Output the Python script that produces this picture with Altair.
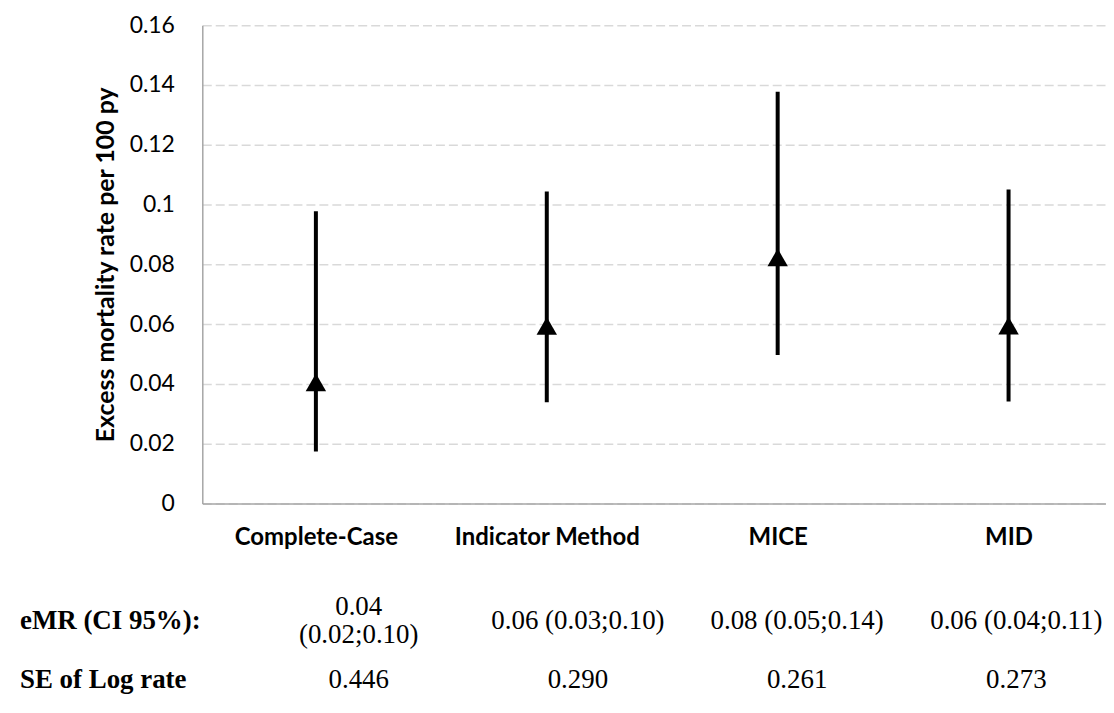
import altair as alt
import pandas as pd

# ---- data ----
categories = ["Complete-Case", "Indicator Method", "MICE", "MID"]
rate = [0.0405, 0.0594, 0.0823, 0.0595]
ci_low = [0.0174, 0.0339, 0.0497, 0.0341]
ci_high = [0.0978, 0.1044, 0.1377, 0.1050]
y_ticks = [0, 0.02, 0.04, 0.06, 0.08, 0.1, 0.12, 0.14, 0.16]

row_labels = ["eMR (CI 95%):", "SE of Log rate"]
emr_text = ["0.04\n(0.02;0.10)", "0.06 (0.03;0.10)", "0.08 (0.05;0.14)", "0.06 (0.04;0.11)"]
se_text = ["0.446", "0.290", "0.261", "0.273"]

# ---- tables ----
est = pd.DataFrame({
    "idx": list(range(len(categories))),
    "method": categories,
    "rate": rate,
    "low": ci_low,
    "high": ci_high,
})

head = pd.DataFrame({"col": ["row"] * len(row_labels), "row": row_labels, "text": row_labels})
cells = pd.DataFrame({
    "col": categories + categories,
    "row": [row_labels[0]] * len(categories) + [row_labels[1]] * len(categories),
    "text": emr_text + se_text,
})

W, H = 907, 480
LINE_H = 28
label_expr = "[" + ",".join("'" + c + "'" for c in categories) + "][datum.value]"

x_plot = alt.X(
    "idx:Q",
    scale=alt.Scale(domain=[-0.492, 3.422], nice=False, zero=False),
    axis=alt.Axis(
        values=list(range(len(categories))),
        labelExpr=label_expr,
        labelLimit=0,
        labelOverlap=False,
        title=None,
        grid=False,
        ticks=False,
        tickSize=0,
        labelPadding=22,
        labelFont="Lato",
        labelFontWeight="bold",
        labelFontSize=24,
        labelColor="#000000",
        domainColor="#a6a6a6",
        domainWidth=1.5,
    ),
)
y_plot = alt.Y(
    "low:Q",
    scale=alt.Scale(domain=[0, 0.16], nice=False, zero=True),
    axis=alt.Axis(
        values=y_ticks,
        format="~g",
        title="Excess mortality rate per 100 py",
        titleFont="Lato",
        titleFontWeight="bold",
        titleFontSize=25,
        titleColor="#000000",
        titlePadding=11,
        labelFont="Lato",
        labelFontSize=23,
        labelColor="#000000",
        labelPadding=28,
        ticks=False,
        tickSize=0,
        grid=True,
        gridColor="#d9d9d9",
        gridDash=[9, 4],
        gridWidth=1.5,
        domainColor="#a6a6a6",
        domainWidth=1.5,
    ),
)

bars = alt.Chart(est).mark_rule(color="#000000", strokeWidth=4).encode(
    x=x_plot, y=y_plot, y2="high:Q"
)
points = alt.Chart(est).mark_point(
    shape="triangle-up", filled=True, color="#000000", opacity=1, size=420
).encode(x="idx:Q", y="rate:Q")

plot = alt.layer(bars, points)

x_tab = alt.Scale(
    type="band",
    domain=["row"] + categories,
    range=[-173, 927],
    paddingInner=0,
    paddingOuter=0,
)
y_tab = alt.Scale(type="point", domain=row_labels, range=[598, 657], padding=0)

header_txt = alt.Chart(head).mark_text(
    align="left", baseline="middle", font="Liberation Serif", fontWeight="bold",
    fontSize=27, color="#000000", dx=-10
).encode(
    x=alt.X("col:N", scale=x_tab, axis=None, bandPosition=0),
    y=alt.Y("row:N", scale=y_tab, axis=None),
    text="text:N",
)
cell_enc = dict(
    x=alt.X("col:N", scale=x_tab, axis=None, bandPosition=0.5),
    y=alt.Y("row:N", scale=y_tab, axis=None),
    text="text:N",
)
cell_single = alt.Chart(cells).transform_filter(
    "indexof(datum.text, '\\n') < 0"
).mark_text(
    align="center", baseline="middle", font="Liberation Serif", fontSize=27,
    color="#000000"
).encode(**cell_enc)
cell_multi = alt.Chart(cells).transform_filter(
    "indexof(datum.text, '\\n') >= 0"
).mark_text(
    align="center", baseline="middle", font="Liberation Serif", fontSize=27,
    color="#000000", lineBreak="\n", lineHeight=LINE_H, dy=-LINE_H / 2
).encode(**cell_enc)
table = alt.layer(header_txt, cell_single, cell_multi)

chart = (
    alt.layer(plot, table)
    .resolve_scale(x="independent", y="independent")
    .properties(
        width=W,
        height=H,
        padding={"left": 195, "top": 16, "right": 0, "bottom": 200},
        autosize=alt.AutoSizeParams(type="none"),
        background="#ffffff",
    )
    .configure_view(stroke=None)
)

chart.save("out.html", embed_options={"renderer": "svg", "actions": False})
